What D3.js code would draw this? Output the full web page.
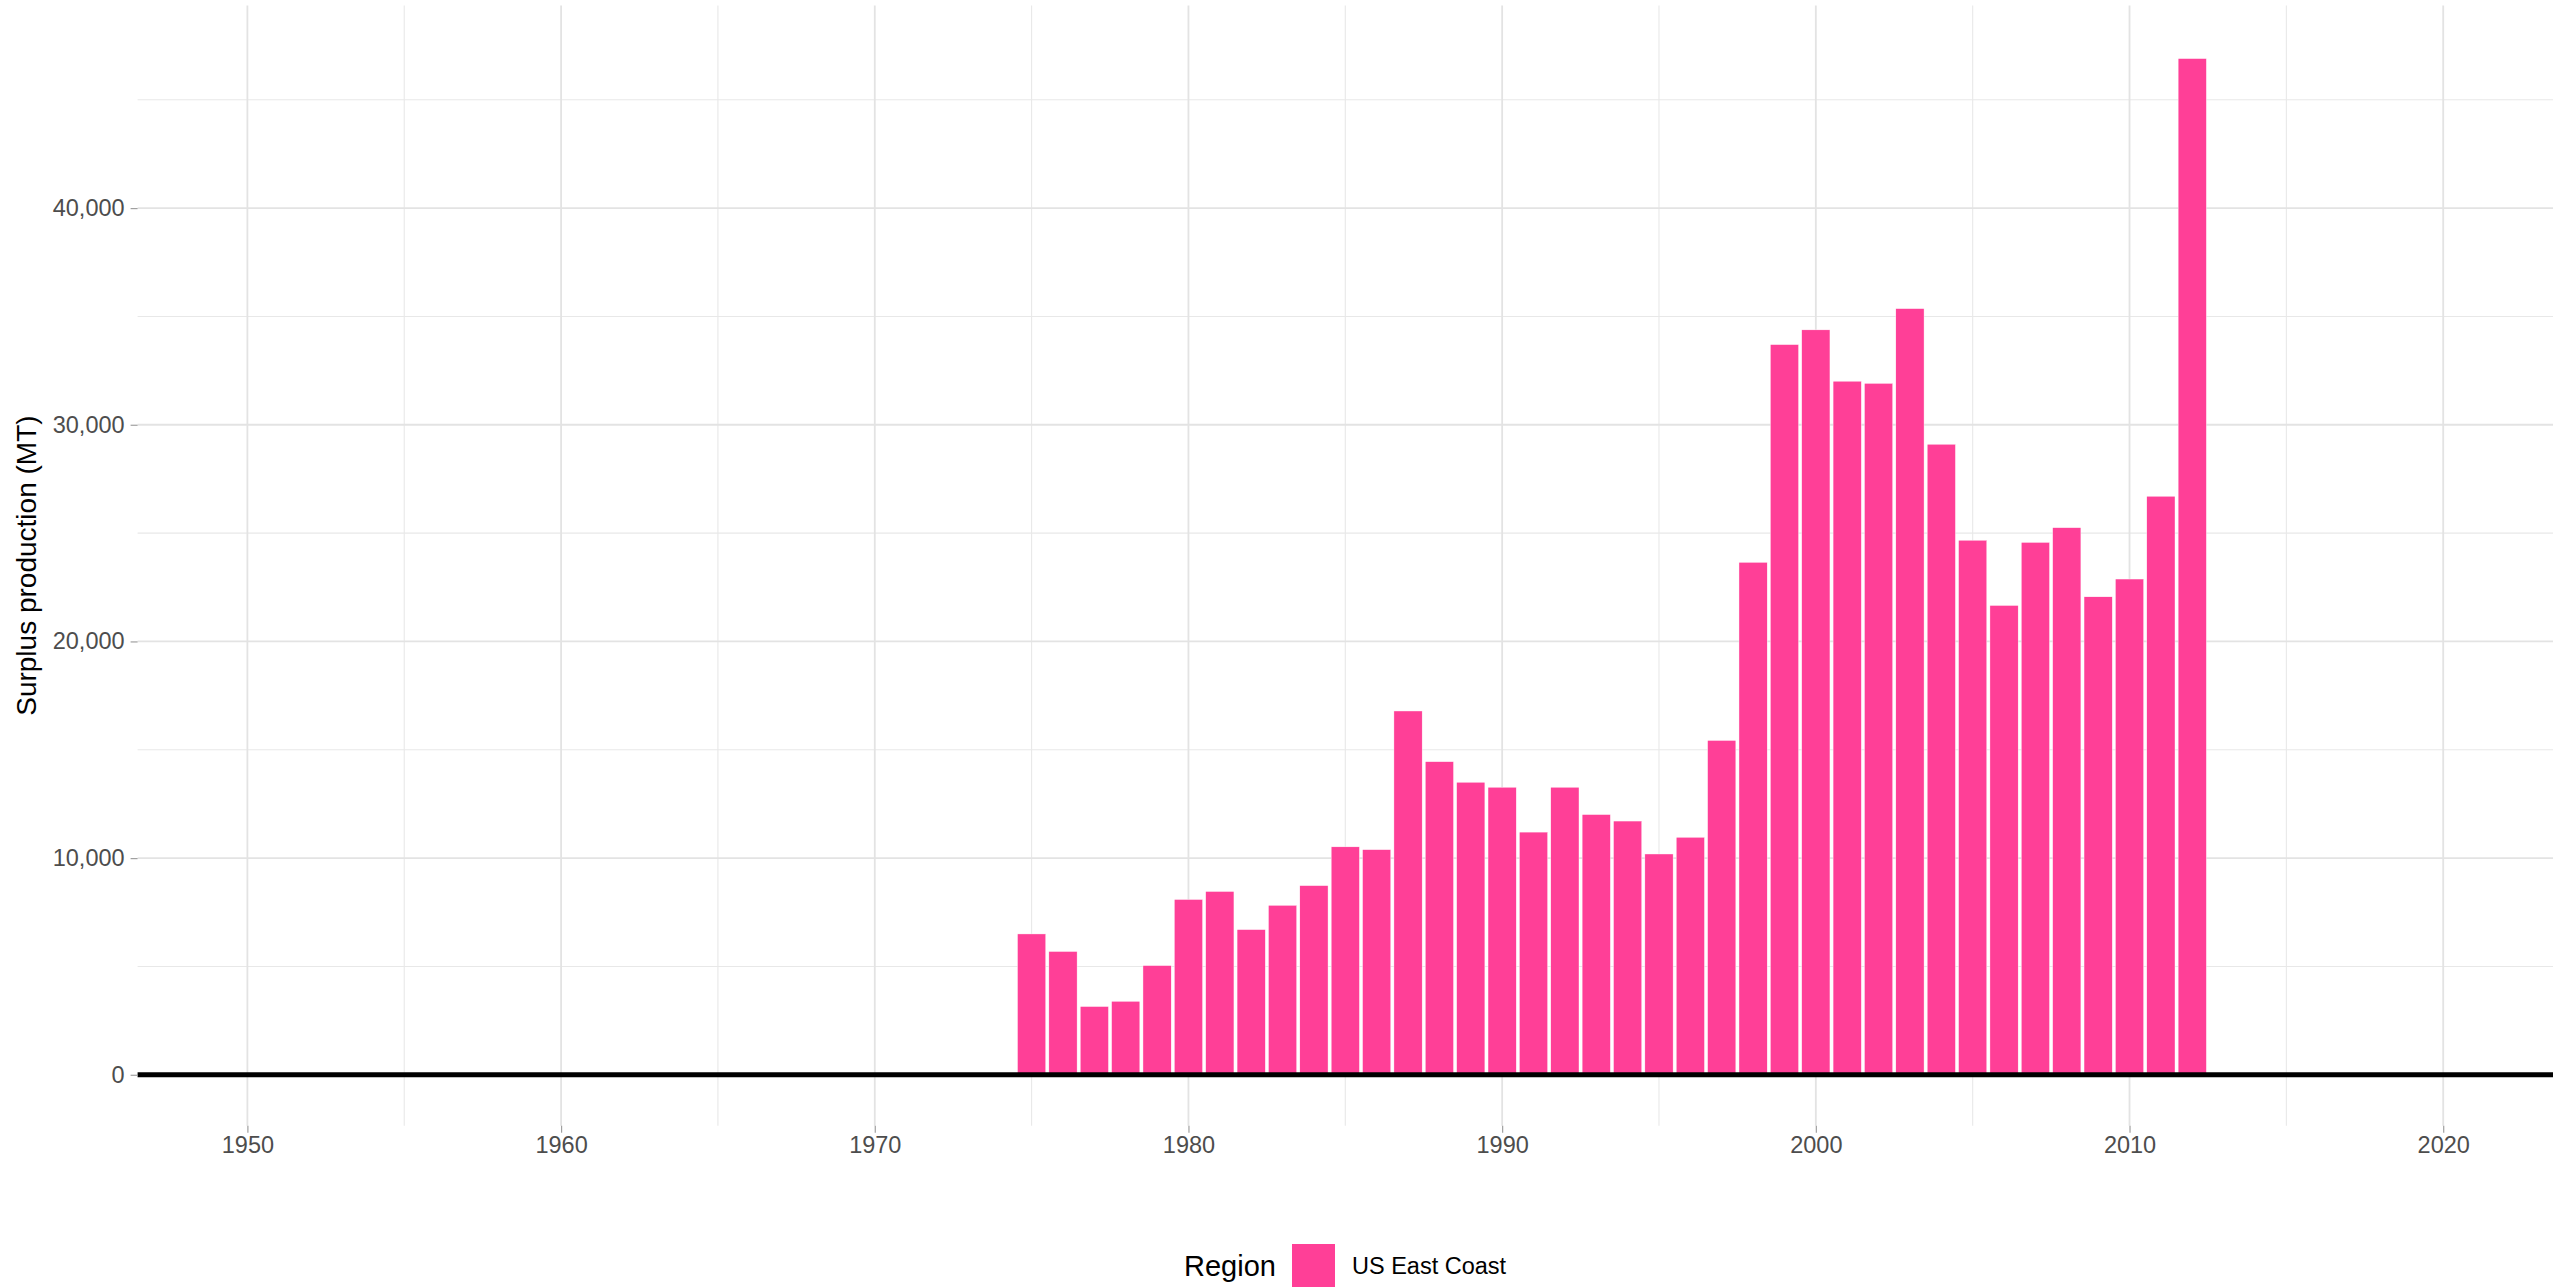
<!DOCTYPE html>
<html>
<head>
<meta charset="utf-8">
<script src="https://cdn.jsdelivr.net/npm/d3@7"></script>
<style>
  html, body { margin: 0; padding: 0; background: #fff; }
  svg { display: block; font-family: "Liberation Sans", Arial, Helvetica, sans-serif; }
</style>
</head>
<body>
<div id="chart"></div>
<script>
// Surplus production by year, US East Coast
var years = [1975, 1976, 1977, 1978, 1979, 1980, 1981, 1982, 1983, 1984,
  1985, 1986, 1987, 1988, 1989, 1990, 1991, 1992, 1993, 1994,
  1995, 1996, 1997, 1998, 1999, 2000, 2001, 2002, 2003, 2004,
  2005, 2006, 2007, 2008, 2009, 2010, 2011, 2012];
var surplus = [6500, 5690, 3150, 3390, 5040, 8090, 8460, 6700, 7820, 8730,
  10520, 10390, 16790, 14450, 13500, 13270, 11200, 13270, 12010, 11710,
  10190, 10960, 15430, 23650, 33700, 34380, 32010, 31910, 35360, 29100,
  24670, 21660, 24570, 25250, 22060, 22880, 26700, 46900];
var regions = ['US East Coast'];
var regionColors = ['#ff3f97'];
var xMajorTicks = [1950, 1960, 1970, 1980, 1990, 2000, 2010, 2020];
var xMinorTicks = [1955, 1965, 1975, 1985, 1995, 2005, 2015];
var yMajorTicks = [0, 10000, 20000, 30000, 40000];
var yMinorTicks = [5000, 15000, 25000, 35000, 45000];

(function () {
  'use strict';

  var W = 2569, H = 1287;
  var panel = { left: 137.6, right: 2553, top: 5.5, bottom: 1125.7 };

  var svg = d3.select('#chart').append('svg')
    .attr('width', W).attr('height', H);

  var x = d3.scaleLinear().domain([1946.5, 2023.5]).range([panel.left, panel.right]);
  var y = d3.scaleLinear().domain([-2350, 49350]).range([panel.bottom, panel.top]);
  var color = d3.scaleOrdinal().domain(regions).range(regionColors);

  var grid = svg.append('g');

  // minor grid
  grid.selectAll('.vminor').data(xMinorTicks).enter().append('line')
    .attr('x1', x).attr('x2', x).attr('y1', panel.top).attr('y2', panel.bottom)
    .attr('stroke', '#e8e8e8').attr('stroke-width', 1.1);
  grid.selectAll('.hminor').data(yMinorTicks).enter().append('line')
    .attr('y1', y).attr('y2', y).attr('x1', panel.left).attr('x2', panel.right)
    .attr('stroke', '#e8e8e8').attr('stroke-width', 1.1);

  // major grid
  grid.selectAll('.vmajor').data(xMajorTicks).enter().append('line')
    .attr('x1', x).attr('x2', x).attr('y1', panel.top).attr('y2', panel.bottom)
    .attr('stroke', '#e3e3e3').attr('stroke-width', 1.8);
  grid.selectAll('.hmajor').data(yMajorTicks).enter().append('line')
    .attr('y1', y).attr('y2', y).attr('x1', panel.left).attr('x2', panel.right)
    .attr('stroke', '#e3e3e3').attr('stroke-width', 1.8);

  // bars
  var barW = x(1.9) - x(1);
  svg.append('g').selectAll('rect')
    .data(years.map(function (yr, i) { return { year: yr, value: surplus[i], region: regions[0] }; }))
    .enter().append('rect')
    .attr('x', function (d) { return x(d.year) - barW / 2; })
    .attr('y', function (d) { return y(d.value); })
    .attr('width', barW)
    .attr('height', function (d) { return y(0) - y(d.value); })
    .attr('fill', function (d) { return color(d.region); })
    .attr('stroke', '#fff').attr('stroke-width', 0.4);

  // zero line
  svg.append('line')
    .attr('x1', panel.left).attr('x2', panel.right)
    .attr('y1', y(0)).attr('y2', y(0))
    .attr('stroke', '#000').attr('stroke-width', 5);

  // axes
  var yAxis = svg.append('g')
    .attr('transform', 'translate(' + panel.left + ',0)')
    .call(d3.axisLeft(y).tickValues(yMajorTicks).tickFormat(d3.format(',')).tickSize(7).tickPadding(6));
  var xAxis = svg.append('g')
    .attr('transform', 'translate(0,' + panel.bottom + ')')
    .call(d3.axisBottom(x).tickValues(xMajorTicks).tickFormat(d3.format('d')).tickSize(7).tickPadding(4));

  [xAxis, yAxis].forEach(function (a) {
    a.select('.domain').remove();
    a.selectAll('line').attr('stroke', '#a0a0a0').attr('stroke-width', 1.2);
    a.selectAll('text').attr('fill', '#4d4d4d')
      .style('font-size', '23.5px').style('font-family', '"Liberation Sans", Arial, sans-serif');
  });

  // y title
  svg.append('text')
    .attr('transform', 'translate(36,' + ((panel.top + panel.bottom) / 2) + ') rotate(-90)')
    .attr('text-anchor', 'middle')
    .style('font-size', '28px').attr('fill', '#000')
    .text('Surplus production (MT)');

  // legend
  var legend = svg.append('g');
  legend.append('text').attr('x', 1184).attr('y', 1276)
    .style('font-size', '29px').attr('fill', '#000').text('Region');
  regions.forEach(function (r, i) {
    legend.append('rect').attr('x', 1292).attr('y', 1244).attr('width', 43).attr('height', 43)
      .attr('fill', color(r));
    legend.append('text').attr('x', 1352).attr('y', 1274)
      .style('font-size', '23.5px').attr('fill', '#000').text(r);
  });
})();
</script>
</body>
</html>
